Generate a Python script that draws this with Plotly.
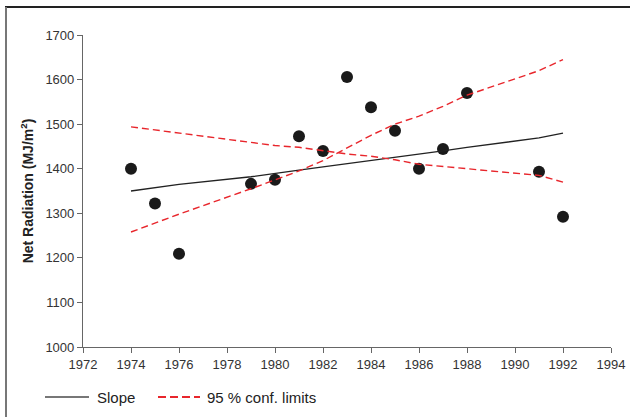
import plotly.graph_objects as go

years = [1974, 1975, 1976, 1979, 1980, 1981, 1982, 1983, 1984, 1985, 1986, 1987, 1988, 1991, 1992]
net_radiation = [1400, 1322, 1209, 1366, 1375, 1473, 1440, 1606, 1538, 1485, 1400, 1444, 1570, 1393, 1292]
slope_vals = [1350, 1357, 1365, 1382, 1390, 1397, 1404, 1411, 1418, 1426, 1433, 1440, 1448, 1469, 1480]
upper_ci = [1494, 1487, 1480, 1460, 1452, 1448, 1440, 1433, 1428, 1420, 1410, 1405, 1400, 1385, 1370]
lower_ci = [1258, 1278, 1298, 1355, 1375, 1395, 1418, 1446, 1475, 1500, 1518, 1540, 1565, 1620, 1645]

x_ticks = list(range(1972, 1995, 2))
y_ticks = list(range(1000, 1701, 100))

slope_label = "Slope"
ci_label = "95 % conf. limits"

font = "Liberation Sans, Arial, sans-serif"
red = "#e8262c"
dash = "7px,4px"

# plot area in pixels: x 83..611, y 35..347
L, R, T, B = 83, 611, 35, 347
def px(x):
    return (x - L) / (R - L)
def py(y):
    return (B - y) / (B - T)

fig = go.Figure()
fig.add_trace(go.Scatter(x=years, y=net_radiation, mode="markers",
                         marker=dict(color="#1a1a1a", size=12), showlegend=False))
fig.add_trace(go.Scatter(x=years, y=slope_vals, mode="lines", name=slope_label,
                         line=dict(color="#222222", width=1.3), showlegend=False))
fig.add_trace(go.Scatter(x=years, y=upper_ci, mode="lines", name=ci_label,
                         line=dict(color=red, width=1.4, dash=dash), showlegend=False))
fig.add_trace(go.Scatter(x=years, y=lower_ci, mode="lines", name=ci_label, showlegend=False,
                         line=dict(color=red, width=1.4, dash=dash)))

fig.update_layout(
    width=630, height=417,
    margin=dict(l=L, r=630 - R, t=T, b=417 - B),
    paper_bgcolor="white", plot_bgcolor="white",
    font=dict(family=font, color="#222222", size=13),
    xaxis=dict(range=[1972, 1994], tickvals=x_ticks, showgrid=False, zeroline=False,
               showline=True, linecolor="#666666", linewidth=1.2, automargin=False,
               ticks="outside", ticklen=5, tickcolor="#666666",
               tickfont=dict(size=13, color="#333333")),
    yaxis=dict(range=[1000, 1700], tickvals=y_ticks, showgrid=False, zeroline=False,
               showline=True, linecolor="#666666", linewidth=1.2, automargin=False,
               ticks="outside", ticklen=5, tickcolor="#666666",
               tickfont=dict(size=13, color="#333333"),
               title=dict(text="<b>Net Radiation (MJ/m<sup>2</sup>)</b>", font=dict(size=14, color="#222222"),
                          standoff=8)),
    showlegend=False,
    shapes=[
        dict(type="line", xref="paper", yref="paper", x0=px(5), x1=px(632), y0=py(7), y1=py(7),
             line=dict(color="#222222", width=2)),
        dict(type="line", xref="paper", yref="paper", x0=px(6), x1=px(6), y0=py(7), y1=py(420),
             line=dict(color="#777777", width=2)),
        # legend samples
        dict(type="line", xref="paper", yref="paper", x0=px(45), x1=px(89), y0=py(397), y1=py(397),
             line=dict(color="#777777", width=2)),
        dict(type="line", xref="paper", yref="paper", x0=px(158), x1=px(200), y0=py(397), y1=py(397),
             line=dict(color=red, width=2, dash="8px,4px")),
    ],
    annotations=[
        dict(text=slope_label, xref="paper", yref="paper", x=px(95), y=py(397),
             xanchor="left", yanchor="middle", showarrow=False,
             font=dict(size=15, color="#222222")),
        dict(text=ci_label, xref="paper", yref="paper", x=px(205), y=py(397),
             xanchor="left", yanchor="middle", showarrow=False,
             font=dict(size=15, color="#222222")),
    ],
)

fig.write_html("out.html", config={"displayModeBar": False},
               post_script="document.body.style.margin='0';")
